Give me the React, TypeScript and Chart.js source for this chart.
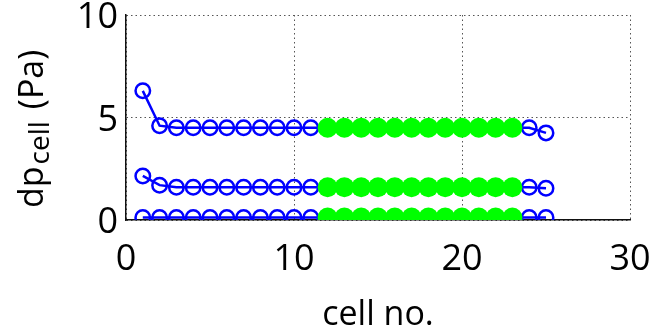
import React, { useEffect, useRef } from "react";
import { Chart, registerables } from "chart.js";

Chart.register(...registerables);

const cells = [1, 2, 3, 4, 5, 6, 7, 8, 9, 10, 11, 12, 13, 14, 15, 16, 17, 18, 19, 20, 21, 22, 23, 24, 25];
const topSeries = [6.3, 4.6, 4.5, 4.5, 4.5, 4.5, 4.5, 4.5, 4.5, 4.5, 4.5, 4.5, 4.5, 4.5, 4.5, 4.5, 4.5, 4.5, 4.5, 4.5, 4.5, 4.5, 4.5, 4.5, 4.25];
const midSeries = [2.15, 1.7, 1.6, 1.6, 1.6, 1.6, 1.6, 1.6, 1.6, 1.6, 1.6, 1.6, 1.6, 1.6, 1.6, 1.6, 1.6, 1.6, 1.6, 1.6, 1.6, 1.6, 1.6, 1.6, 1.55];
const lowSeries = [0.12, 0.12, 0.12, 0.12, 0.12, 0.12, 0.12, 0.12, 0.12, 0.12, 0.12, 0.12, 0.12, 0.12, 0.12, 0.12, 0.12, 0.12, 0.12, 0.12, 0.12, 0.12, 0.12, 0.12, 0.12];
const greenCells = [12, 13, 14, 15, 16, 17, 18, 19, 20, 21, 22, 23];
const xTicks = [0, 10, 20, 30];
const yTicks = [0, 5, 10];
const xTitle = "cell no.";
const yTitleMain = "dp";
const yTitleSub = "cell";
const yTitleUnit = "(Pa)";

const FONT = "'Open Sans', sans-serif";

function pts(values: number[]) {
  return cells.map((c, i) => ({ x: c, y: values[i] }));
}
function greenPts(values: number[]) {
  return greenCells.map((c) => ({ x: c, y: values[cells.indexOf(c)] }));
}

const titlesPlugin = {
  id: "titles",
  afterDraw(chart: any) {
    const ctx = chart.ctx;
    const area = chart.chartArea;
    ctx.save();
    ctx.fillStyle = "#000";
    ctx.textBaseline = "alphabetic";
    ctx.textAlign = "center";
    ctx.font = `34px ${FONT}`;
    ctx.fillText(xTitle, (area.left + area.right) / 2, 325);
    ctx.restore();

    ctx.save();
    ctx.fillStyle = "#000";
    ctx.textBaseline = "alphabetic";
    ctx.textAlign = "left";
    ctx.translate(43, 208);
    ctx.rotate(-Math.PI / 2);
    ctx.font = `34px ${FONT}`;
    ctx.fillText(yTitleMain, 0, 0);
    let x = ctx.measureText(yTitleMain).width + 2;
    ctx.font = `28px ${FONT}`;
    ctx.fillText(yTitleSub, x, 6);
    x += ctx.measureText(yTitleSub).width + 12;
    ctx.font = `34px ${FONT}`;
    ctx.fillText(yTitleUnit, x, 0);
    ctx.restore();
  },
};

export default function App() {
  const ref = useRef<HTMLCanvasElement>(null);
  useEffect(() => {
    document.body.style.margin = "0";
    const blue = "#0000ff";
    const green = "#00ff00";
    const blueDs = (values: number[]) => ({
      data: pts(values),
      showLine: true,
      borderColor: blue,
      borderWidth: 2.5,
      pointStyle: "circle",
      pointRadius: 7.25,
      pointBorderWidth: 2.5,
      pointBorderColor: blue,
      pointBackgroundColor: "rgba(0,0,0,0)",
      order: 2,
    });
    const greenDs = (values: number[]) => ({
      data: greenPts(values),
      showLine: false,
      pointStyle: "circle",
      pointRadius: 10,
      pointBorderWidth: 0,
      pointBackgroundColor: green,
      pointBorderColor: green,
      order: 1,
    });
    const grid = {
      color: "#555",
      lineWidth: 1,
      drawTicks: false,
    };
    const border = { display: true, color: "#111", width: 1.5, dash: [1.5, 3] };
    const chart = new Chart(ref.current!, {
      type: "scatter",
      data: {
        datasets: [
          greenDs(topSeries),
          greenDs(midSeries),
          greenDs(lowSeries),
          blueDs(topSeries),
          blueDs(midSeries),
          blueDs(lowSeries),
        ] as any,
      },
      options: {
        animation: false,
        responsive: false,
        devicePixelRatio: 1,
        layout: { padding: { top: 15, right: 20, left: 0, bottom: 0 } },
        plugins: { legend: { display: false }, tooltip: { enabled: false } },
        scales: {
          x: {
            type: "linear",
            min: 0,
            max: 30,
            afterBuildTicks: (s: any) => {
              s.ticks = xTicks.map((v) => ({ value: v }));
            },
            grid,
            border,
            ticks: {
              padding: 18,
              color: "#000",
              font: { family: FONT, size: 36 },
              maxRotation: 0,
            },
            afterFit: (s: any) => {
              s.height = 115;
              s.paddingLeft = 0;
              s.paddingRight = 0;
            },
          },
          y: {
            type: "linear",
            min: 0,
            max: 10,
            afterBuildTicks: (s: any) => {
              s.ticks = yTicks.map((v) => ({ value: v }));
            },
            grid,
            border,
            ticks: {
              padding: 8,
              labelOffset: 3,
              color: "#000",
              font: { family: FONT, size: 36 },
            },
            afterFit: (s: any) => {
              s.width = 126;
              s.paddingTop = 0;
              s.paddingBottom = 0;
            },
          },
        },
      } as any,
      plugins: [titlesPlugin],
    });
    return () => chart.destroy();
  }, []);
  return <canvas ref={ref} width={650} height={335} style={{ display: "block" }} />;
}
